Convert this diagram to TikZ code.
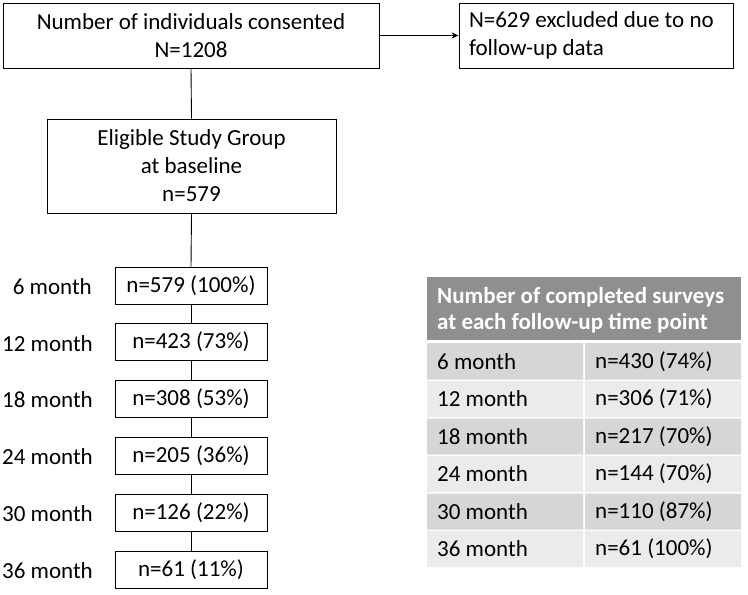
\documentclass[tikz,border=0pt]{standalone}
\usepackage{fontspec}
\setmainfont{Carlito}
\usetikzlibrary{arrows.meta}
\definecolor{hdr}{HTML}{8F8F8F}
\definecolor{rowdark}{HTML}{D6D6D6}
\definecolor{rowlight}{HTML}{EBEBEB}
\begin{document}
\begin{tikzpicture}[x=1pt,y=-1pt,
  box/.style={draw=black,line width=0.9pt,rectangle,inner sep=0pt,font=\fontsize{23}{27.5}\selectfont,align=center},
  mbox/.style={box,minimum width=152pt,minimum height=37pt},
  lab/.style={anchor=east,inner sep=0pt,font=\fontsize{23}{27.5}\selectfont},
  cell/.style={anchor=west,inner sep=0pt,font=\fontsize{23}{27.5}\selectfont},
  conn/.style={line width=0.9pt,draw=black}]
\useasboundingbox (0,0) rectangle (748,595);
\fill[white] (0,0) rectangle (748,595);
% top boxes
\node[box,minimum width=376pt,minimum height=65pt] (cons) at (191,35.5) {Number of individuals consented\\N=1208};
\node[box,minimum width=274pt,minimum height=65pt,text width=254pt,align=flush left,inner xsep=10pt] (excl) at (596,35.5) {N=629 excluded due to no\\follow-up data};
\node[box,minimum width=289pt,minimum height=94pt,font=\fontsize{23}{28}\selectfont] (elig) at (191.5,166) {Eligible Study Group\\at baseline\\n=579};
% month boxes
\node[mbox] (m6) at (191,285.5) {n=579 (100\%)};
\node[mbox] (m12) at (191,342) {n=423 (73\%)};
\node[mbox] (m18) at (191,398.5) {n=308 (53\%)};
\node[mbox] (m24) at (191,455.5) {n=205 (36\%)};
\node[mbox] (m30) at (191,512.5) {n=126 (22\%)};
\node[mbox] (m36) at (191,569.5) {n=61 (11\%)};
% labels
\node[lab] (l6) at (92,287) {6 month};
\node[lab] (l12) at (93,343.5) {12 month};
\node[lab] (l18) at (93,400) {18 month};
\node[lab] (l24) at (93,457) {24 month};
\node[lab] (l30) at (93,514) {30 month};
\node[lab] (l36) at (93,571) {36 month};
% connectors
\draw[conn,-{Stealth[length=7pt,width=6pt]}] (cons.east) -- (excl.west);
\draw[conn] (cons.south) -- (elig.north);
\draw[conn] (elig.south) -- (m6.north);
\draw[conn] (m6.south) -- (m12.north);
\draw[conn] (m12.south) -- (m18.north);
\draw[conn] (m18.south) -- (m24.north);
\draw[conn] (m24.south) -- (m30.north);
\draw[conn] (m30.south) -- (m36.north);
% table
\fill[hdr] (427,277) rectangle (741,340);
\node[cell,text=white,font=\bfseries\fontsize{23}{26}\selectfont,align=flush left] (thead) at (437,310) {Number of completed surveys\\at each follow-up time point};
\fill[rowdark]  (427,343) rectangle (583,379.5) (585,343) rectangle (741,379.5);
\fill[rowlight] (427,381) rectangle (583,417) (585,381) rectangle (741,417);
\fill[rowdark]  (427,418.5) rectangle (583,454.5) (585,418.5) rectangle (741,454.5);
\fill[rowlight] (427,456) rectangle (583,492) (585,456) rectangle (741,492);
\fill[rowdark]  (427,493.5) rectangle (583,529.5) (585,493.5) rectangle (741,529.5);
\fill[rowlight] (427,531) rectangle (583,567) (585,531) rectangle (741,567);
\node[cell] (t6) at (437,362) {6 month};
\node[cell] (v6) at (595,362) {n=430 (74\%)};
\node[cell] (t12) at (437,399) {12 month};
\node[cell] (v12) at (595,399) {n=306 (71\%)};
\node[cell] (t18) at (437,436.5) {18 month};
\node[cell] (v18) at (595,436.5) {n=217 (70\%)};
\node[cell] (t24) at (437,474) {24 month};
\node[cell] (v24) at (595,474) {n=144 (70\%)};
\node[cell] (t30) at (437,511.5) {30 month};
\node[cell] (v30) at (595,511.5) {n=110 (87\%)};
\node[cell] (t36) at (437,549) {36 month};
\node[cell] (v36) at (595,549) {n=61 (100\%)};
\end{tikzpicture}
\end{document}
